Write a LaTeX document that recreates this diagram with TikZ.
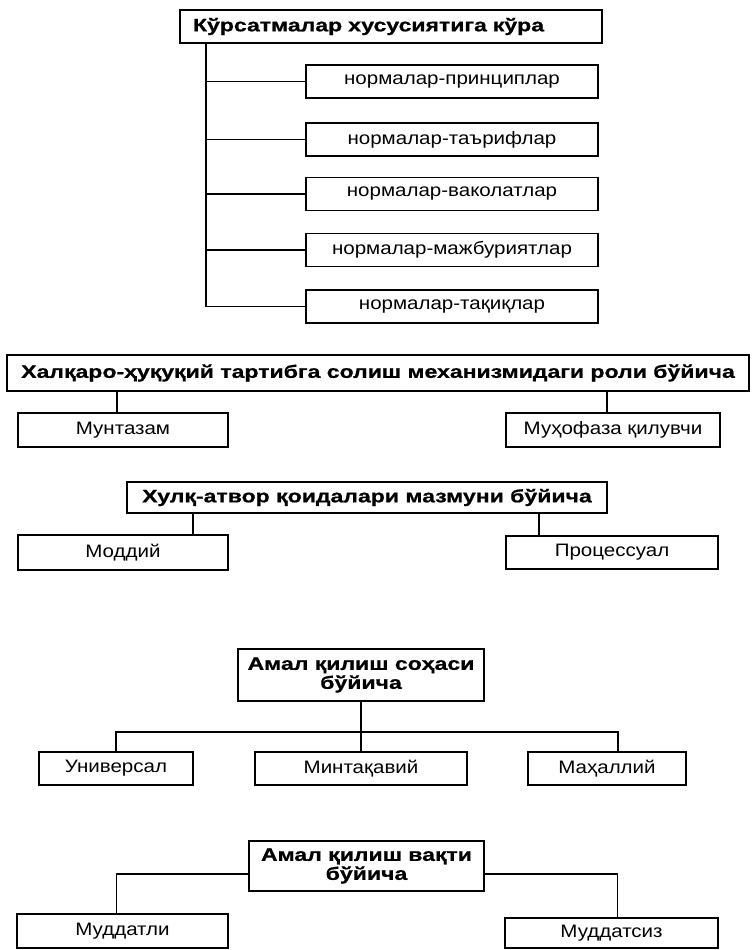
\documentclass[tikz,border=0pt]{standalone}
\usepackage{fontspec}
\setmainfont[FakeStretch=1.14]{Liberation Sans}
\newfontfamily\headfont[FakeStretch=1.28,FakeBold=0.8]{Liberation Sans Bold}
\begin{document}
\begin{tikzpicture}[x=1pt,y=-1pt,line width=1.4pt,
    box/.style={draw,inner sep=0pt,align=center,font=\fontsize{18}{20}\selectfont},
    head/.style={box,font=\fontsize{18}{19}\selectfont\headfont}]
  \useasboundingbox (0,0) rectangle (752,950);
  % by kind of instruction
  \draw
    (391,26.5) node[head,minimum width=422,minimum height=33,text width=396,align=left] (kurs){Кўрсатмалар хусусиятига кўра}
    (452,81.5) node[box,minimum width=292,minimum height=33] (n1){нормалар-принциплар}
    (452,139.5) node[box,minimum width=292,minimum height=33] (n2){нормалар-таърифлар}
    (452,194) node[box,minimum width=292,minimum height=33] (n3){нормалар-ваколатлар}
    (452,250) node[box,minimum width=292,minimum height=33] (n4){нормалар-мажбуриятлар}
    (452,306.5) node[box,minimum width=292,minimum height=33] (n5){нормалар-тақиқлар};
  \coordinate (trunk) at (206,0);
  % by role
  \draw
    (378,373) node[head,minimum width=742,minimum height=36] (rol){Халқаро-ҳуқуқий тартибга солиш механизмидаги роли бўйича}
    (123,430) node[box,minimum width=210,minimum height=34] (munt){Мунтазам}
    (613,430) node[box,minimum width=214,minimum height=34] (muh){Муҳофаза қилувчи};
  % by content
  \draw
    (367,497.5) node[head,minimum width=480,minimum height=31] (hulq){Хулқ-атвор қоидалари мазмуни бўйича}
    (123,552.5) node[box,minimum width=210,minimum height=35] (modd){Моддий}
    (612,552.5) node[box,minimum width=212,minimum height=33] (prots){Процессуал};
  % by sphere
  \draw
    (361,675) node[head,minimum width=246,minimum height=52] (soha){Амал қилиш соҳаси\\бўйича}
    (116,768.5) node[box,minimum width=154,minimum height=33] (univ){Универсал}
    (361,768.5) node[box,minimum width=212,minimum height=33] (mint){Минтақавий}
    (607,768.5) node[box,minimum width=158,minimum height=33] (mah){Маҳаллий};
  \coordinate (bus) at (361,732);
  % by time
  \draw
    (366.5,866) node[head,minimum width=235,minimum height=50] (vaqt){Амал қилиш вақти\\бўйича}
    (122.5,931) node[box,minimum width=211,minimum height=34] (mudl){Муддатли}
    (611.5,933) node[box,minimum width=213,minimum height=30] (muds){Муддатсиз};
  \begin{scope}[-]
    \draw (trunk |- kurs.south) -- (trunk |- n5.west);
    \draw (trunk |- n1.west) -- (n1.west);
    \draw (trunk |- n2.west) -- (n2.west);
    \draw (trunk |- n3.west) -- (n3.west);
    \draw (trunk |- n4.west) -- (n4.west);
    \draw (trunk |- n5.west) -- (n5.west);
    \draw ([xshift=-6]munt.north |- rol.south) -- ([xshift=-6]munt.north);
    \draw ([xshift=-6]muh.north |- rol.south) -- ([xshift=-6]muh.north);
    \draw ([xshift=70]modd.north |- hulq.south) -- ([xshift=70]modd.north);
    \draw ([xshift=-73]prots.north |- hulq.south) -- ([xshift=-73]prots.north);
    \draw (soha.south) -- (mint.north);
    \draw (univ.north) |- (bus) -| ([xshift=11]mah.north);
    \draw ([yshift=-8]vaqt.west) -| ([xshift=-6]mudl.north);
    \draw ([yshift=-8]vaqt.east) -| ([xshift=6]muds.north);
  \end{scope}
\end{tikzpicture}
\end{document}
